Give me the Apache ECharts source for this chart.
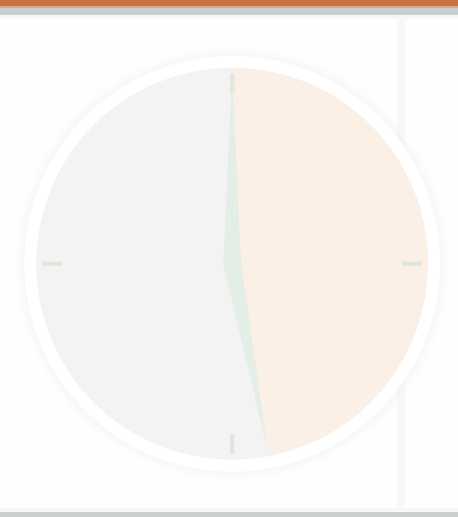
<!DOCTYPE html>
<html>
<head>
<meta charset="utf-8">
<script src="https://cdn.jsdelivr.net/npm/echarts@6/dist/echarts.min.js"></script>
<style>
  html, body { margin: 0; padding: 0; background: #fefefe; }
  #demo { width: 458px; height: 517px; }
</style>
</head>
<body>
<div id="demo"></div>
<script>
// 数据
var sliceNames = ['B', 'A'];
var sliceValues = [47, 53];
var sliceColors = ['#fbf0e6', '#f3f3f3'];
var handValues = [0, 47];
var tickValues = [0, 25, 50, 75];

var myChart = echarts.init(document.getElementById('demo'));

var center = ['50.7%', '51%'];

var option = {
    animation: false,
    backgroundColor: '#fefefe',
    graphic: [
        // 顶部橙色条 + 灰线
        { type: 'rect', shape: { x: 0, y: 0, width: 458, height: 6 }, style: { fill: '#c8733f' } },
        { type: 'rect', shape: { x: 0, y: 6, width: 458, height: 2 }, style: { fill: '#dcab90' } },
        { type: 'rect', shape: { x: 0, y: 8, width: 458, height: 7 }, style: { fill: '#c9cecd' } },
        { type: 'rect', shape: { x: 0, y: 15, width: 458, height: 4 }, style: { fill: '#f3f7f6' } },
        // 右侧竖线
        { type: 'rect', shape: { x: 397, y: 19, width: 8, height: 488 }, style: { fill: '#f8f8f8' } },
        // 底部灰条
        { type: 'rect', shape: { x: 0, y: 508, width: 458, height: 4 }, style: { fill: '#f4f8f8' } },
        { type: 'rect', shape: { x: 0, y: 512, width: 458, height: 5 }, style: { fill: '#cbcfce' } }
    ],
    series: [
        {
            // 外圈白色
            type: 'pie',
            silent: true,
            center: center,
            radius: [0, 208],
            label: { show: false },
            itemStyle: {
                color: '#ffffff',
                shadowBlur: 14,
                shadowColor: 'rgba(0,0,0,0.06)'
            },
            data: [{ value: 1, name: 'bg' }],
            z: 1
        },
        {
            type: 'pie',
            silent: true,
            center: center,
            radius: [0, 196],
            startAngle: 90,
            clockwise: true,
            label: { show: false },
            labelLine: { show: false },
            data: sliceNames.map(function (n, i) {
                return { name: n, value: sliceValues[i], itemStyle: { color: sliceColors[i] } };
            }),
            z: 2
        },
        {
            type: 'gauge',
            center: center,
            radius: 196,
            min: 0,
            max: 100,
            startAngle: 90,
            endAngle: -270,
            splitNumber: 4,
            axisLine: { show: false },
            axisTick: { show: false },
            splitLine: {
                show: true,
                distance: -4,
                length: 20,
                lineStyle: { color: '#e0e5da', width: 4 }
            },
            axisLabel: { show: false },
            pointer: {
                show: true,
                length: '98%',
                width: 9,
                itemStyle: { color: '#e3efe6' }
            },
            anchor: { show: false },
            title: { show: false },
            detail: { show: false },
            data: handValues.map(function (v) { return { value: v }; }),
            z: 3
        }
    ]
};

myChart.setOption(option);
</script>
</body>
</html>
